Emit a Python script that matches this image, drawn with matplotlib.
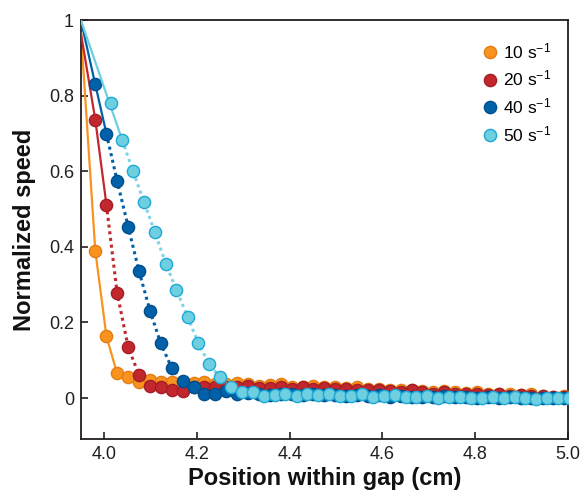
import numpy as np
import matplotlib
matplotlib.use('Agg')
import matplotlib.pyplot as plt

plt.rcParams['font.family'] = ['Liberation Sans', 'DejaVu Sans']
plt.rcParams['mathtext.fontset'] = 'custom'
plt.rcParams['mathtext.rm'] = 'Liberation Sans'
plt.rcParams['mathtext.it'] = 'Liberation Sans:italic'
plt.rcParams['mathtext.bf'] = 'Liberation Sans:bold'

"""
 DATA (read off the reference)
"""
labels = ['10 s$^{-1}$', '20 s$^{-1}$', '40 s$^{-1}$', '50 s$^{-1}$']

# measurement positions (cm), shared by the 10, 20 and 40 s^-1 runs
pos_a = [3.981, 4.005, 4.028, 4.052, 4.075, 4.099, 4.122, 4.146, 4.169, 4.193,
         4.216, 4.240, 4.263, 4.287, 4.310, 4.334, 4.357, 4.381, 4.404, 4.428,
         4.451, 4.475, 4.498, 4.522, 4.545, 4.569, 4.592, 4.616, 4.639, 4.663,
         4.686, 4.710, 4.733, 4.757, 4.780, 4.804, 4.827, 4.851, 4.874, 4.898,
         4.921, 4.945, 4.968, 4.992]
# positions for the 50 s^-1 run
pos_b = [4.015, 4.039, 4.062, 4.086, 4.109, 4.133, 4.156, 4.180, 4.203, 4.227,
         4.250, 4.274, 4.297, 4.321, 4.344, 4.368, 4.391, 4.415, 4.438, 4.462,
         4.485, 4.509, 4.532, 4.556, 4.579, 4.603, 4.626, 4.650, 4.673, 4.697,
         4.720, 4.744, 4.767, 4.791, 4.814, 4.838, 4.861, 4.885, 4.908, 4.932,
         4.955, 4.979, 5.002]

speed_10 = [0.390, 0.164, 0.065, 0.056, 0.043, 0.048, 0.043, 0.043, 0.042, 0.040,
            0.043, 0.038, 0.036, 0.040, 0.038, 0.032, 0.035, 0.036, 0.030, 0.030,
            0.032, 0.028, 0.030, 0.026, 0.028, 0.025, 0.024, 0.022, 0.020, 0.022,
            0.018, 0.016, 0.018, 0.015, 0.014, 0.016, 0.012, 0.010, 0.012, 0.008,
            0.010, 0.006, 0.004, 0.005]
speed_20 = [0.737, 0.512, 0.279, 0.134, 0.062, 0.032, 0.030, 0.021, 0.019, 0.030,
            0.028, 0.030, 0.030, 0.028, 0.032, 0.027, 0.026, 0.030, 0.025, 0.028,
            0.024, 0.026, 0.023, 0.025, 0.020, 0.022, 0.020, 0.018, 0.016, 0.020,
            0.015, 0.012, 0.015, 0.012, 0.010, 0.012, 0.008, 0.010, 0.006, 0.008,
            0.005, 0.006, 0.004, 0.003]
speed_40 = [0.830, 0.700, 0.575, 0.453, 0.337, 0.231, 0.145, 0.079, 0.046, 0.028,
            0.012, 0.012, 0.018, 0.010, 0.014, 0.010, 0.008, 0.012, 0.010, 0.008,
            0.010, 0.007, 0.009, 0.006, 0.008, 0.005, 0.007, 0.004, 0.006, 0.003,
            0.004, 0.002, 0.005, 0.002, 0.003, 0.001, 0.003, 0.000, 0.002, 0.000,
            0.001, -0.001, 0.000, 0.000]
speed_50 = [0.782, 0.683, 0.601, 0.519, 0.440, 0.356, 0.286, 0.215, 0.146, 0.089,
            0.055, 0.030, 0.017, 0.017, 0.005, 0.008, 0.010, 0.006, 0.010, 0.008,
            0.010, 0.005, 0.006, 0.010, 0.004, 0.005, 0.008, 0.003, 0.002, 0.006,
            0.000, 0.002, 0.004, 0.000, 0.001, 0.003, 0.000, 0.002, 0.000, -0.002,
            0.000, 0.001, 0.000]

# speed at the gap entrance (x = 3.95) where the solid lines start
start_x = 3.95
start_y = [0.97, 0.966, 1.0, 1.0]

fill = ['#F7931E', '#C1272D', '#0061A8', '#6DCFE0']
edge = ['#E57D14', '#A51D26', '#004E8C', '#1DA8D6']
dot_col = ['#F7931E', '#C1272D', '#0061A8', '#7FD3E6']

"""
       PLOTTING
"""
fig = plt.figure(figsize=(5.82, 4.92), dpi=100)
ax = fig.add_axes([0.139, 0.108, 0.837, 0.851])

series = [(pos_a, speed_10), (pos_a, speed_20), (pos_a, speed_40), (pos_b, speed_50)]
solid_end = [len(speed_10), 2, 2, 2]   # solid line runs through this many points
dot_range = [(0, 0), (1, 5), (1, 10), (1, 12)]   # dotted connection between points

for i, (xs, ys) in enumerate(series):
    n = solid_end[i]
    if i == 3:
        # light blue line skips the first point
        lx = [start_x, xs[1]]
        ly = [start_y[i], ys[1]]
    else:
        lx = [start_x] + xs[:n]
        ly = [start_y[i]] + ys[:n]
    ax.plot(lx, ly, '-', color=fill[i], lw=1.6, zorder=2 + i)
    d0, d1 = dot_range[i]
    if d1 > d0:
        ax.plot(xs[d0:d1], ys[d0:d1], linestyle=(0, (1, 1.2)), color=dot_col[i],
                lw=2.2, zorder=2 + i)
    ax.plot(xs, ys, 'o', ms=8.8, mfc=fill[i], mec=edge[i], mew=1.0,
            linestyle='none', zorder=3 + i, label=labels[i])

ax.set_xlim(3.95, 5.0)
ax.set_ylim(-0.108, 1.0)
ax.set_xticks([4.0, 4.2, 4.4, 4.6, 4.8, 5.0])
ax.set_xticklabels(['4.0', '4.2', '4.4', '4.6', '4.8', '5.0'])
ax.set_yticks([0, 0.2, 0.4, 0.6, 0.8, 1.0])
ax.set_yticklabels(['0', '0.2', '0.4', '0.6', '0.8', '1'])
ax.tick_params(direction='in', length=5, width=1.2, labelsize=13,
               colors='#231F20', pad=5)
for sp in ax.spines.values():
    sp.set_linewidth(1.3)
    sp.set_color('#231F20')

ax.set_xlabel('Position within gap (cm)', fontsize=17, fontweight='bold',
              color='#111111', labelpad=3)
ax.set_ylabel('Normalized speed', fontsize=17, fontweight='bold',
              color='#111111', labelpad=9)

ax.legend(loc='upper left', bbox_to_anchor=(0.805, 0.975), frameon=False,
          fontsize=12.5, handlelength=0.7, handletextpad=0.4, labelspacing=0.45,
          borderaxespad=0.2)

fig.savefig('out.png', dpi=100)
